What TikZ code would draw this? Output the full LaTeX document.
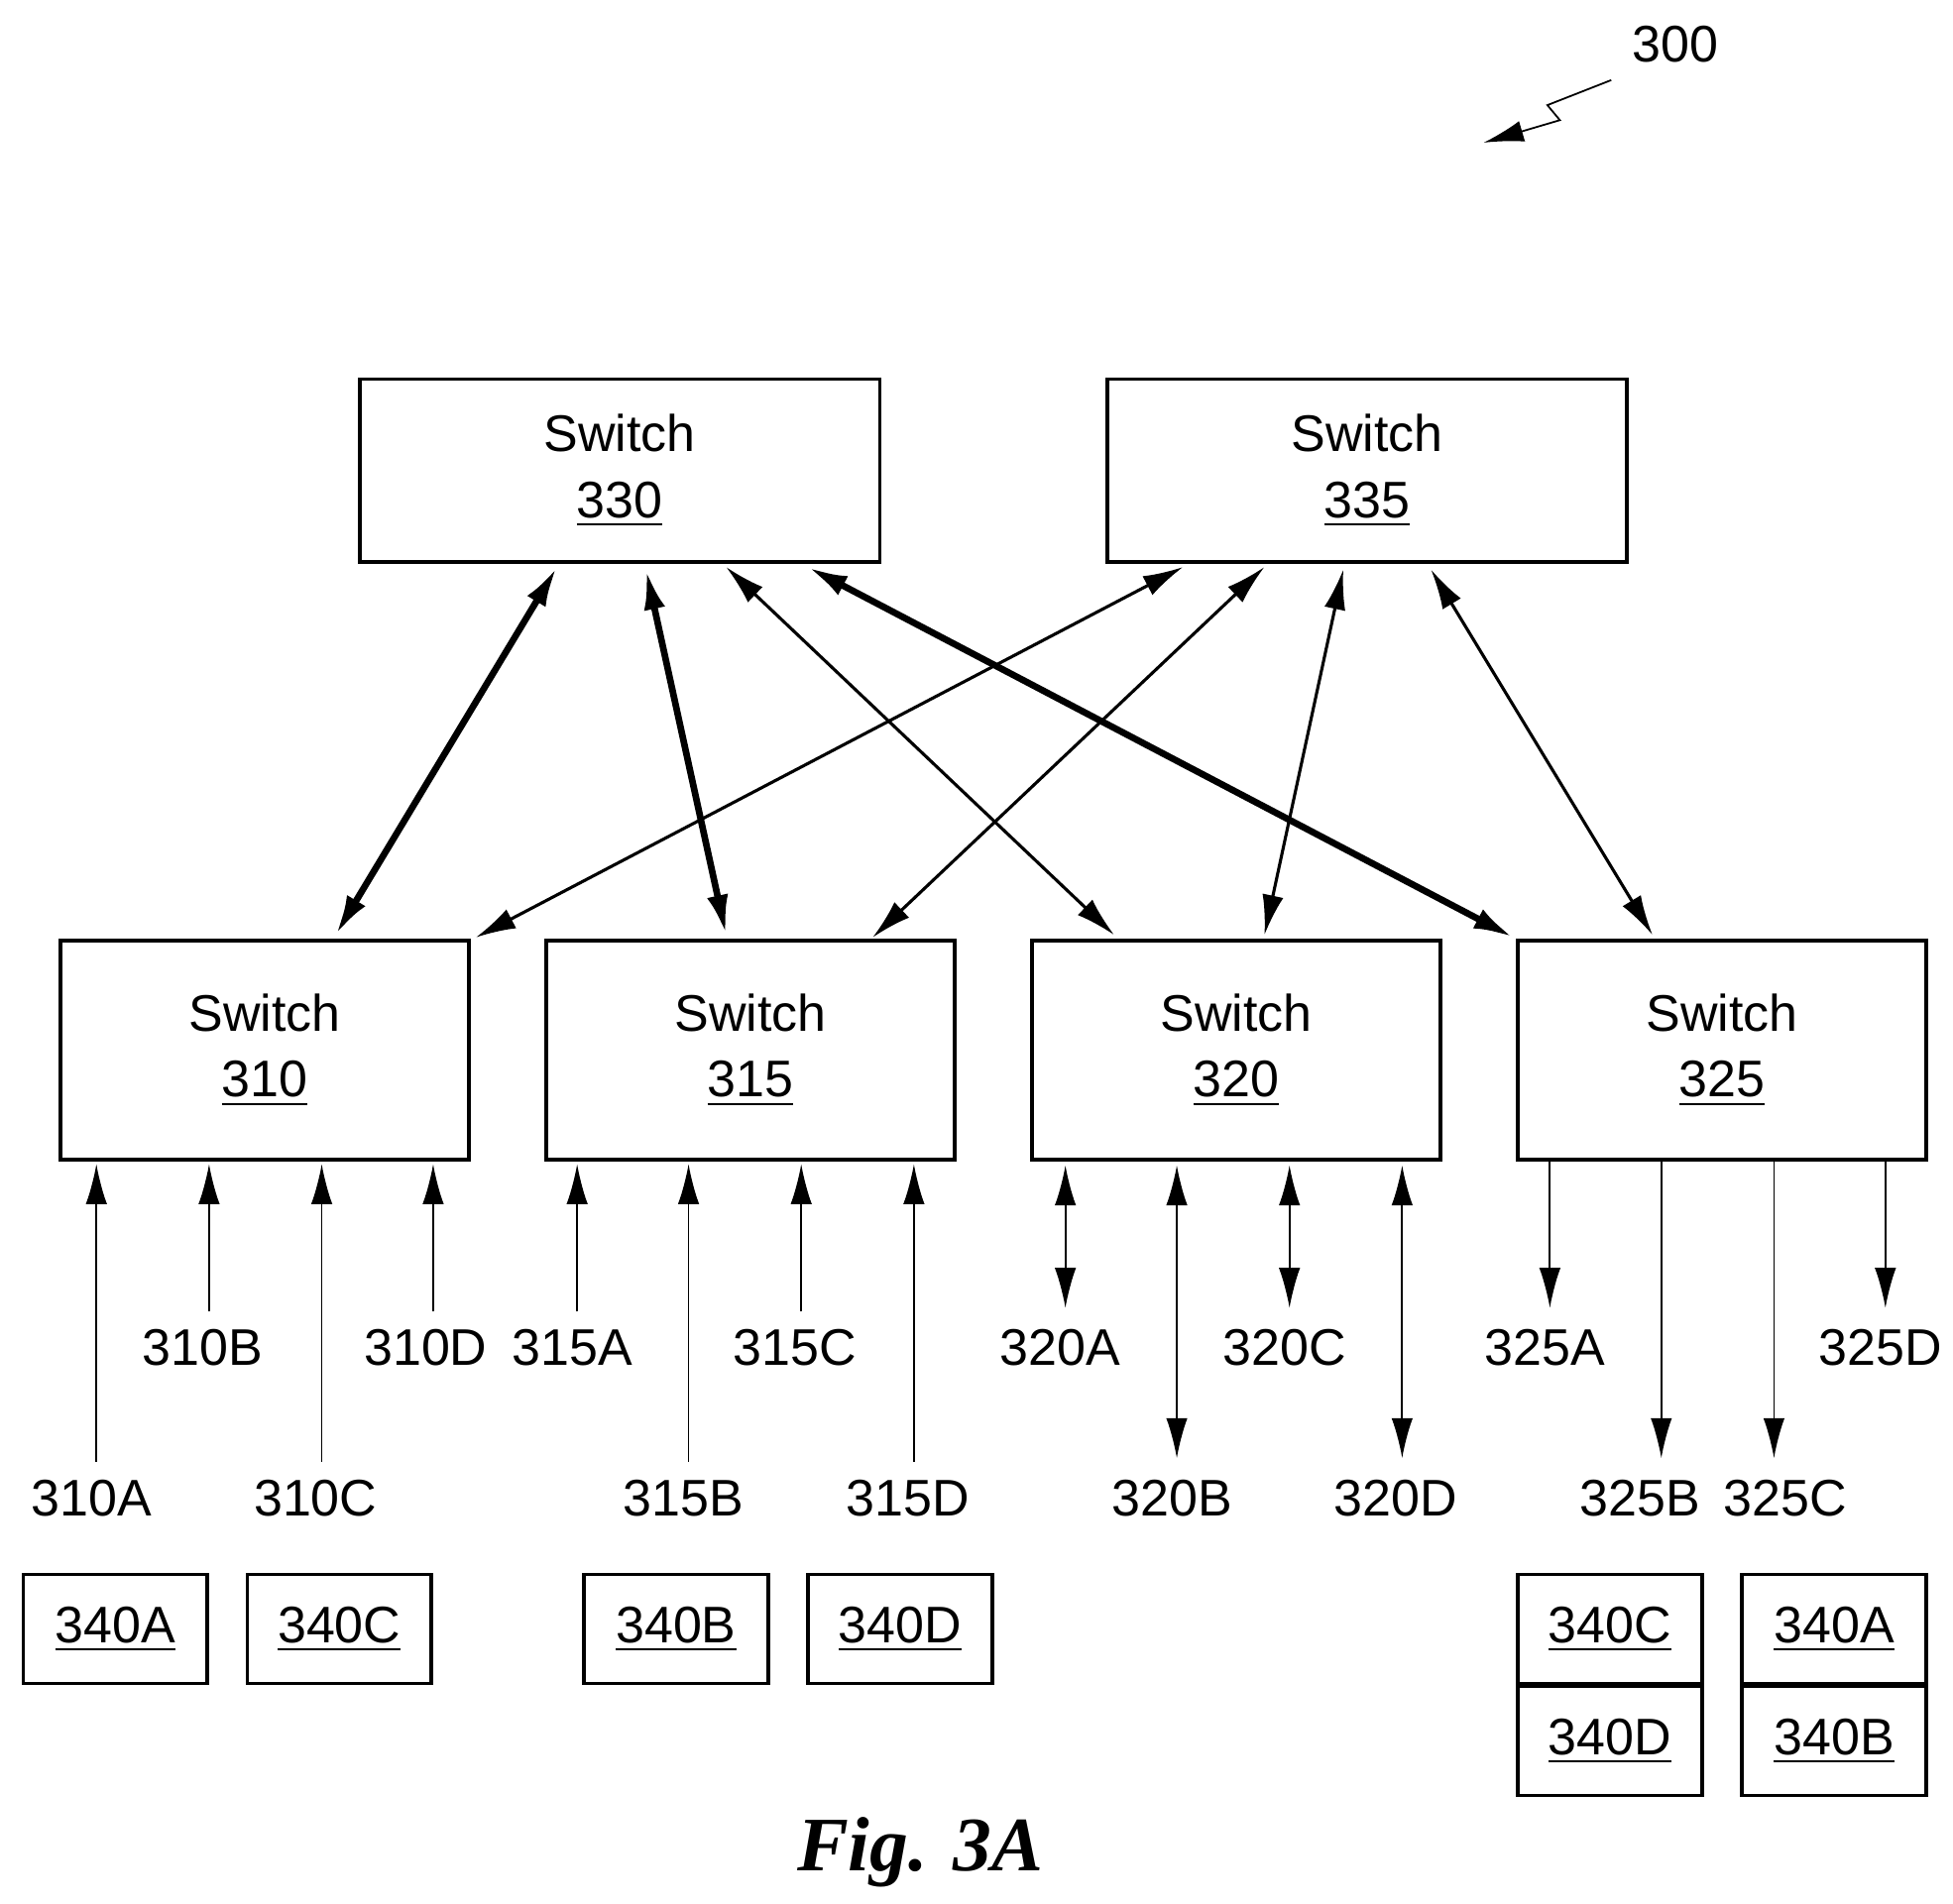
\documentclass[tikz,border=0pt]{standalone}
\usepackage{fontspec}
\setmainfont{Liberation Sans}
\newfontfamily\figfont{Liberation Serif}
\usetikzlibrary{arrows.meta}
\tikzset{
  sw/.style={draw,thick,minimum width=3.26cm,minimum height=1.75cm,align=center,font=\fontsize{11.7}{15}\selectfont},
  top/.style={sw,minimum width=4.15cm,minimum height=1.46cm},
  blk/.style={draw,thick,minimum width=1.47cm,minimum height=0.87cm,font=\fontsize{11.7}{15}\selectfont},
  lbl/.style={font=\fontsize{11.7}{15}\selectfont},
  tip/.style={-{Latex[length=0.32cm,width=0.17cm]}},
  dtip/.style={{Latex[length=0.32cm,width=0.17cm]}-{Latex[length=0.32cm,width=0.17cm]}},
  heavy/.style={dtip,line width=1.5pt},
  light/.style={dtip,line width=0.7pt}
}
\begin{document}
\begin{tikzpicture}[x=0.01cm,y=-0.01cm]
\useasboundingbox (0,0) rectangle (1560,1521);
% switches
\node[top] (s330) at (495,376) {Switch\\\underline{330}};
\node[top] (s335) at (1092,376) {Switch\\\underline{335}};
\node[sw] (s310) at (211.5,839) {Switch\\\underline{310}};
\node[sw] (s315) at (599.5,839) {Switch\\\underline{315}};
\node[sw] (s320) at (987.5,839) {Switch\\\underline{320}};
\node[sw] (s325) at (1375.5,839) {Switch\\\underline{325}};
% uplinks
\draw[heavy] (445,453) -- (268,747);
\draw[heavy] (516,455) -- (580,747);
\draw[heavy] (645,453) -- (1209,749);
\draw[light] (580,453) -- (890,747);
\draw[light] (945,453) -- (380,749);
\draw[light] (1010,453) -- (697,749);
\draw[light] (1073,455) -- (1010,747);
\draw[light] (1143,455) -- (1320,747);
% ports
\foreach \x/\y/\t/\lx in {77/1168/310A/73,167/1048/310B/162,257/1168/310C/252,346/1048/310D/340,
  461/1048/315A/457,550/1168/315B/546,640/1048/315C/635,730/1168/315D/725}{
  \draw[tip,thin] (\x,\y) -- (\x,930);
  \node[lbl] (p\t) at (\lx,{\y+29}) {\t};
}
\foreach \x/\y/\t/\lx in {851/1045/320A/847,940/1165/320B/936,1030/1045/320C/1026,1120/1165/320D/1115}{
  \draw[dtip,thin] (\x,931) -- (\x,\y);
  \node[lbl] (p\t) at (\lx,{\y+32}) {\t};
}
\foreach \x/\y/\t/\lx in {1238/1045/325A/1234,1327/1165/325B/1310,1417/1165/325C/1426,1506/1045/325D/1502}{
  \draw[tip,thin] (\x,928) -- (\x,\y);
  \node[lbl] (p\t) at (\lx,{\y+32}) {\t};
}
% blocks
\node[blk] (b1) at (92,1301.5) {\underline{340A}};
\node[blk] (b2) at (271,1301.5) {\underline{340C}};
\node[blk] (b3) at (540,1301.5) {\underline{340B}};
\node[blk] (b4) at (719,1301.5) {\underline{340D}};
\node[blk] (b5) at (1286,1301.5) {\underline{340C}};
\node[blk] (b6) at (1286,1391) {\underline{340D}};
\node[blk] (b7) at (1465,1301.5) {\underline{340A}};
\node[blk] (b8) at (1465,1391) {\underline{340B}};
% reference
\node[lbl] (ref) at (1338,35) {300};
\coordinate (z0) at (1287,64);
\coordinate (z1) at (1185,114);
\draw[tip,thin] (z0) -- (1236,84) -- (1246,96) -- (z1);
\node (cap) at (735,1480) {\figfont\bfseries\itshape\fontsize{17.5}{21}\selectfont Fig. 3A};
\end{tikzpicture}
\end{document}
